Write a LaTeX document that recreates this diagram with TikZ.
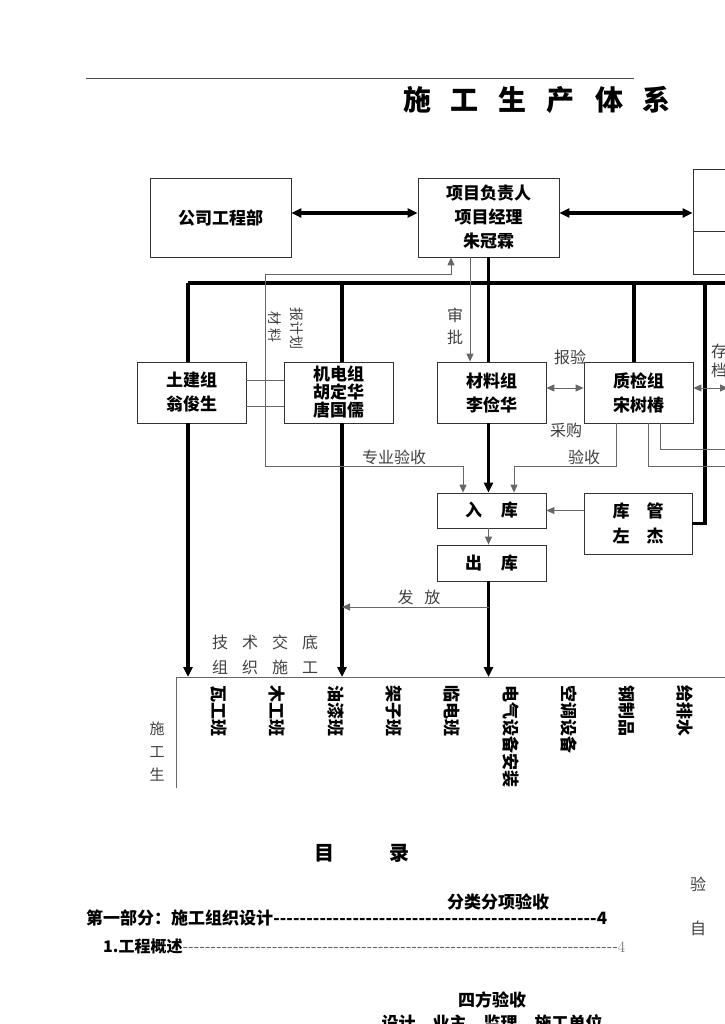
\documentclass[tikz,border=0pt]{standalone}
\usepackage{fontspec}
\newfontfamily\cjk{Noto Sans CJK SC}
\usetikzlibrary{arrows.meta}

\tikzset{
  unit/.style={draw=black!80, line width=0.8pt, align=center, inner sep=0pt,
    minimum width=109pt, minimum height=61pt,
    font=\cjk\bfseries\fontsize{17}{24}\selectfont},
  trunk/.style={line width=3.5pt, >={Triangle[length=10pt,width=9pt]}},
  feed/.style={draw=black!60, line width=0.9pt, >={Triangle[length=8pt,width=7pt]}},
  note/.style={text=black!75, inner sep=0pt, font=\cjk\fontsize{16}{20}\selectfont},
  crew/.style={rotate=-90, anchor=west, inner sep=0pt,
    font=\cjk\bfseries\fontsize{17}{20}\selectfont},
  heading/.style={inner sep=0pt, font=\cjk\bfseries\fontsize{17}{20}\selectfont},
}

\begin{document}
\begin{tikzpicture}[x=1pt,y=-1pt]
  \useasboundingbox (0,0) rectangle (724,1024);

  \draw[black!70, line width=0.8pt] (86,78) -- (634,78);
  \node[heading, font=\cjk\bfseries\fontsize{28}{30}\selectfont] (title) at (537,100)
    {施\hspace{20pt}工\hspace{20pt}生\hspace{20pt}产\hspace{20pt}体\hspace{20pt}系};

  % top row
  \node[unit, minimum width=141pt, minimum height=79pt] (dept) at (220.5,217.5) {公司工程部};
  \node[unit, minimum width=141pt, minimum height=79pt] (pm) at (488.5,217.5) {项目负责人\\项目经理\\朱冠霖};
  \node[unit, minimum width=70pt, minimum height=105pt] (office) at (728,221.5) {};
  \draw[draw=black!80, line width=0.8pt] ([yshift=-9.5pt]office.west) -- ([yshift=-9.5pt]office.east);

  % groups
  \node[unit] (civil) at (191.5,392.5) {土建组\\翁俊生};
  \node[unit, font=\cjk\bfseries\fontsize{17}{18}\selectfont] (mech) at (338.5,392.5) {机电组\\胡定华\\唐国儒};
  \node[unit] (supply) at (491.5,392.5) {材料组\\李俭华};
  \node[unit] (quality) at (638.5,392.5) {质检组\\宋树椿};
  \node[unit, minimum height=35pt] (stockin) at (491.5,510.5) {入\hspace{19pt}库};
  \node[unit, minimum width=108pt, font=\cjk\bfseries\fontsize{17}{25}\selectfont] (keeper) at (638,523.5)
    {库\hspace{17pt}管\\左\hspace{17pt}杰};
  \node[unit, minimum height=36pt] (stockout) at (491.5,563) {出\hspace{19pt}库};

  \coordinate (colA) at (188,283);
  \coordinate (colB) at (342,283);
  \coordinate (colD) at (634,283);
  \coordinate (colE) at (705,283);
  \coordinate (busend) at (740,283);
  \coordinate (floorfoot) at (176,788);
  \coordinate (floor) at (176,677);
  \coordinate (floorend) at (740,677);
  \coordinate (plan) at (265,466);
  \coordinate (planturn) at (265,274);
  \coordinate (check) at (514,466);
  \coordinate (outA) at (740,466);
  \coordinate (outB) at (740,449);
  \coordinate (archive) at (728,388);
  \coordinate (release) at (488.5,607);

  % thick lines
  \draw[trunk,<->] ([yshift=4.5pt]dept.east) -- ([yshift=4.5pt]pm.west);
  \draw[trunk,<->] ([yshift=4.5pt]pm.east) -- ([yshift=4.5pt]pm.east -| office.west);
  \draw[trunk] (colA) -- (busend);
  \draw[trunk] (colA) -- (colA |- civil.north);
  \draw[trunk,->] (colA |- civil.south) -- (colA |- floor);
  \draw[trunk] (colB) -- (colB |- mech.north);
  \draw[trunk,->] (colB |- mech.south) -- (colB |- floor);
  \draw[trunk] (pm.south) -- (pm.south |- supply.north);
  \draw[trunk,->] (pm.south |- supply.south) -- (pm.south |- stockin.north);
  \draw[trunk,->] (pm.south |- stockout.south) -- (pm.south |- floor);
  \draw[trunk] (colD) -- (colD |- quality.north);
  \draw[trunk] (colE) |- (keeper.east);

  % thin lines
  \draw[feed,->] ([xshift=-18.5pt]pm.south) coordinate (approve) -- (approve |- supply.north);
  \node[note, align=center, font=\cjk\fontsize{16}{22}\selectfont] (approvetext) at (455,326) {审\\批};
  \draw[feed,->] (plan) -- (planturn) -| ([xshift=-37.5pt]pm.south);
  \draw[feed,->] (plan) -| ([xshift=-28.5pt]stockin.north);
  \node[note] (majortext) at (394,457) {专业验收};
  \node[note, rotate=-90, font=\cjk\fontsize{14}{16}\selectfont] (materialtext) at (275,327) {材\hspace{4pt}料};
  \node[note, rotate=-90, font=\cjk\fontsize{14}{16}\selectfont] (plantext) at (297,328) {报计划};
  \draw[feed] ([yshift=12.5pt]civil.east) -- ([yshift=12.5pt]mech.west);
  \draw[feed] ([yshift=-13.5pt]civil.east) -- ([yshift=-13.5pt]mech.west);
  \draw[feed,<->] ([yshift=4.5pt]supply.east) -- ([yshift=4.5pt]quality.west);
  \node[note] (reporttext) at (570,357) {报验};
  \node[note] (buytext) at (566,430) {采购};
  \draw[feed,<->] ([yshift=4.5pt]quality.east) -- (archive);
  \node[note, align=center, font=\cjk\fontsize{16}{19}\selectfont] (archivetext) at (719,361) {存\\档};
  \draw[feed,->] ([xshift=-22.5pt]quality.south) |- (check) -- (check |- stockin.north);
  \node[note] (accepttext) at (584,457) {验收};
  \draw[feed] ([xshift=9.5pt]quality.south) |- (outA);
  \draw[feed] ([xshift=21.5pt]quality.south) |- (outB);
  \draw[feed,->] (keeper.west |- stockin) -- (stockin.east);
  \draw[feed,->] (pm.south |- stockin.south) -- (pm.south |- stockout.north);
  \draw[feed,->] (release) -- (colB |- release);
  \node[note] (issuetext) at (419,597) {发\hspace{11pt}放};
  \node[note] (brieftext) at (265,642) {技\hspace{14pt}术\hspace{14pt}交\hspace{14pt}底};
  \node[note] (organtext) at (265,667) {组\hspace{14pt}织\hspace{14pt}施\hspace{14pt}工};

  % teams
  \draw[feed] (floorfoot) |- (floorend);
  \node[note, align=center, font=\cjk\fontsize{15}{23}\selectfont] (sitetext) at (157,752) {施\\工\\生};
  \foreach \team [count=\i] in {瓦工班,木工班,油漆班,架子班,临电班,电气设备安装,空调设备,钢制品,给排水}
    \node[crew] (team\i) at (160.7+58.3*\i,685) {\team};

  % contents
  \node[heading, font=\cjk\bfseries\fontsize{20}{22}\selectfont] (contents) at (362,853) {目\hspace{55pt}录};
  \node[note] (checkside) at (698,884) {验};
  \node[note] (selfside) at (698,928) {自};
  \node[heading] (sorttext) at (498,902) {分类分项验收};
  \node[heading, anchor=west] (part) at (86,918)
    {\makebox[521pt][l]{第一部分：施工组织设计\xleaders\hbox{-}\hfill 4}};
  \node[heading, anchor=west, font=\cjk\bfseries\fontsize{16}{20}\selectfont] (overview) at (103,946)
    {\makebox[522pt][l]{1.工程概述{\color{black!60}\mdseries\xleaders\hbox{-}\hfill\normalfont 4}}};
  \node[heading] (fourway) at (492,1000) {四方验收};
  \node[heading, anchor=north] (parties) at (492,1014) {设计　业主　监理　施工单位};
\end{tikzpicture}
\end{document}
